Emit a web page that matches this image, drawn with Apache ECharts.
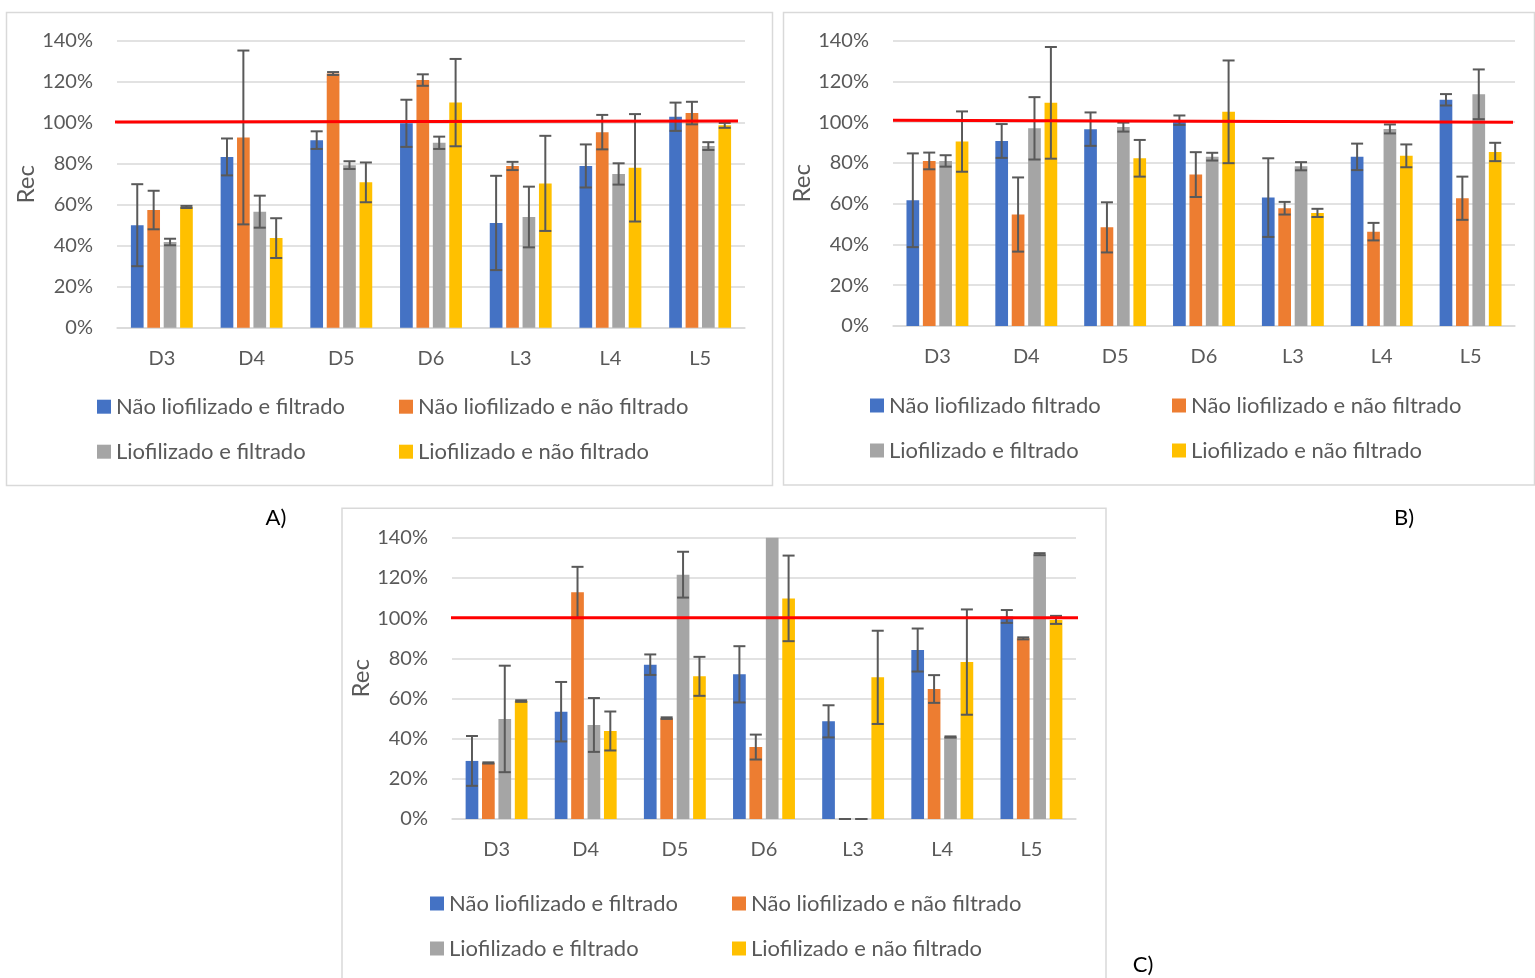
<!DOCTYPE html>
<html>
<head>
<meta charset="utf-8">
<title>Rec</title>
<script src="https://cdn.jsdelivr.net/npm/echarts@6/dist/echarts.min.js"></script>
<style>
  html, body { margin: 0; padding: 0; background: #fff; }
  #chart { width: 1535px; height: 978px; }
</style>
</head>
<body>
<div id="chart"></div>
<script>
// ---- data -------------------------------------------------------------
const categories = ['D3', 'D4', 'D5', 'D6', 'L3', 'L4', 'L5'];
const yTicks = [0, 20, 40, 60, 80, 100, 120, 140];

const namesA = ['Não liofilizado e filtrado', 'Não liofilizado e não filtrado', 'Liofilizado e filtrado', 'Liofilizado e não filtrado'];
const namesB = ['Não liofilizado filtrado', 'Não liofilizado e não filtrado', 'Liofilizado e filtrado', 'Liofilizado e não filtrado'];
const namesC = ['Não liofilizado e filtrado', 'Não liofilizado e não filtrado', 'Liofilizado e filtrado', 'Liofilizado e não filtrado'];

// panel A (values in %)
const aNaoLioFilt      = [50.0, 83.3, 91.5, 99.7, 51.1, 78.9, 102.9];
const aNaoLioFiltErr   = [20.0, 9.0, 4.3, 11.5, 23.0, 10.5, 6.9];
const aNaoLioNaoFilt    = [57.4, 92.8, 124.0, 120.8, 78.9, 95.4, 104.7];
const aNaoLioNaoFiltErr = [9.4, 42.4, 0.7, 2.8, 2.0, 8.4, 5.5];
const aLioFilt         = [41.8, 56.6, 79.3, 90.2, 54.0, 75.0, 88.6];
const aLioFiltErr      = [1.6, 7.8, 1.9, 3.0, 14.8, 5.2, 1.9];
const aLioNaoFilt      = [58.9, 43.7, 70.9, 109.8, 70.4, 78.0, 98.7];
const aLioNaoFiltErr   = [0.5, 9.7, 9.7, 21.3, 23.2, 26.2, 1.2];
const aReference       = [100.3, 100.8];

// panel B
const bNaoLioFilt      = [61.7, 90.8, 96.6, 101.0, 63.0, 83.0, 111.0];
const bNaoLioFiltErr   = [23.0, 8.3, 8.2, 2.3, 19.3, 6.5, 2.8];
const bNaoLioNaoFilt    = [81.0, 54.7, 48.4, 74.3, 57.8, 46.3, 62.7];
const bNaoLioNaoFiltErr = [4.1, 18.2, 12.3, 11.0, 3.1, 4.3, 10.6];
const bLioFilt         = [81.0, 97.0, 97.6, 83.1, 78.4, 96.7, 113.7];
const bLioFiltErr      = [2.8, 15.3, 2.2, 1.9, 2.0, 2.2, 12.2];
const bLioNaoFilt      = [90.5, 109.5, 82.3, 105.1, 55.5, 83.5, 85.4];
const bLioNaoFiltErr   = [14.8, 27.4, 9.0, 25.2, 2.0, 5.6, 4.5];
const bReference       = [101.0, 100.0];

// panel C (D6 "Liofilizado e filtrado" runs past the 140% axis limit)
const cNaoLioFilt      = [28.9, 53.4, 76.8, 72.0, 48.6, 84.1, 100.8];
const cNaoLioFiltErr   = [12.4, 14.8, 5.1, 14.0, 8.0, 10.7, 3.2];
const cNaoLioNaoFilt    = [27.9, 112.8, 50.2, 35.8, 0, 64.7, 89.9];
const cNaoLioNaoFiltErr = [0.3, 12.7, 0.4, 6.2, 0, 6.9, 0.5];
const cLioFilt         = [49.8, 46.8, 121.6, 150.0, 0, 40.8, 131.8];
const cLioFiltErr      = [26.5, 13.4, 11.4, null, 0, 0.3, 0.5];
const cLioNaoFilt      = [58.7, 43.8, 71.0, 109.8, 70.5, 78.1, 99.1];
const cLioNaoFiltErr   = [0.4, 9.7, 9.7, 21.3, 23.2, 26.2, 2.0];
const cReference       = [100.2, 100.2];

// ---- styling ----------------------------------------------------------
const COLORS = ['#4472C4', '#ED7D31', '#A5A5A5', '#FFC000'];
const TEXT = '#595959';
const GRIDLINE = '#D9D9D9';
const FONT = 'Lato, "Liberation Sans", sans-serif';
const FONT_SIZE = 20;
const LEGEND_FONT_SIZE = 22;
const NAME_FONT_SIZE = 24;
const BAR_W = 12.7;
const BAR_SPACE = 3.7;
const CAP = 12;

const panels = [
  {
    label: 'A)', labelPos: [276, 518],
    box: [6.5, 12.5, 766, 473],
    grid: { left: 117, top: 40.7, width: 628, height: 287 },
    legendCols: [97, 399], legendTop: 394.7,
    names: namesA,
    values: [aNaoLioFilt, aNaoLioNaoFilt, aLioFilt, aLioNaoFilt],
    errors: [aNaoLioFiltErr, aNaoLioNaoFiltErr, aLioFiltErr, aLioNaoFiltErr],
    reference: aReference, refShift: [-7, -7]
  },
  {
    label: 'B)', labelPos: [1404, 518],
    box: [783.5, 12.5, 751, 472.5],
    grid: { left: 893, top: 40.7, width: 622, height: 285.3 },
    legendCols: [870, 1172], legendTop: 393.5,
    names: namesB,
    values: [bNaoLioFilt, bNaoLioNaoFilt, bLioFilt, bLioNaoFilt],
    errors: [bNaoLioFiltErr, bNaoLioNaoFiltErr, bLioFiltErr, bLioNaoFiltErr],
    reference: bReference, refShift: [0, -2]
  },
  {
    label: 'C)', labelPos: [1143, 965],
    box: [342, 508.3, 764, 480],
    grid: { left: 452, top: 537.7, width: 624, height: 281.3 },
    legendCols: [430, 732], legendTop: 891.5,
    names: namesC,
    values: [cNaoLioFilt, cNaoLioNaoFilt, cLioFilt, cLioNaoFilt],
    errors: [cNaoLioFiltErr, cNaoLioNaoFiltErr, cLioFiltErr, cLioNaoFiltErr],
    reference: cReference, refShift: [-1, 6]
  }
];

// error bar drawn at the centre of the bar occupying `slot` in its group
function errorBarRenderer(slot) {
  return function (params, api) {
    const idx = api.value(0);
    const lo = api.coord([idx, api.value(1)]);
    const hi = api.coord([idx, api.value(2)]);
    const cx = lo[0] + (slot - 1.5) * (BAR_W + BAR_SPACE);
    const style = { stroke: '#595959', lineWidth: 2 };
    return {
      type: 'group',
      children: [
        { type: 'line', shape: { x1: cx, y1: hi[1], x2: cx, y2: lo[1] }, style },
        { type: 'line', shape: { x1: cx - CAP / 2, y1: hi[1], x2: cx + CAP / 2, y2: hi[1] }, style },
        { type: 'line', shape: { x1: cx - CAP / 2, y1: lo[1], x2: cx + CAP / 2, y2: lo[1] }, style }
      ]
    };
  };
}

const option = {
  animation: false,
  backgroundColor: '#fff',
  textStyle: { fontFamily: FONT },
  grid: [], xAxis: [], yAxis: [], legend: [], series: [], graphic: []
};

panels.forEach((p, pi) => {
  const g = pi;
  option.grid.push(Object.assign({ containLabel: false }, p.grid));

  // category axis
  option.xAxis.push({
    type: 'category', gridIndex: g, data: categories,
    axisLine: { lineStyle: { color: GRIDLINE, width: 1.5 } },
    axisTick: { show: false },
    axisLabel: { color: TEXT, fontSize: FONT_SIZE, fontFamily: FONT, margin: 21 }
  });
  // hidden axis carrying the 100% reference line across the plot
  const W = p.grid.width, a = p.refShift[0], b = p.refShift[1];
  const span = W / (W + b - a);
  const lmin = -a / (W + b - a);
  option.xAxis.push({
    type: 'value', gridIndex: g, show: false, min: lmin, max: lmin + span
  });

  option.yAxis.push({
    type: 'value', gridIndex: g, min: 0, max: 140, interval: 20,
    name: 'Rec', nameLocation: 'middle', nameGap: 78, nameRotate: 90,
    nameTextStyle: { color: TEXT, fontSize: NAME_FONT_SIZE, fontFamily: FONT },
    axisLine: { show: false }, axisTick: { show: false },
    axisLabel: { color: TEXT, fontSize: FONT_SIZE, fontFamily: FONT, margin: 24,
                 formatter: v => yTicks.includes(v) ? v + '%' : '' },
    splitLine: { lineStyle: { color: GRIDLINE, width: 1.5 } }
  });

  const xCat = pi * 2, xRef = pi * 2 + 1;

  p.names.forEach((name, si) => {
    option.series.push({
      type: 'bar', name, xAxisIndex: xCat, yAxisIndex: g,
      data: p.values[si], barWidth: BAR_W, barGap: (BAR_SPACE / BAR_W * 100) + '%',
      itemStyle: { color: COLORS[si] }, clip: true, z: 2
    });
  });
  p.names.forEach((name, si) => {
    const data = [];
    p.values[si].forEach((v, i) => {
      const e = p.errors[si][i];
      if (e !== null) data.push([i, v - e, v + e]);
    });
    option.series.push({
      type: 'custom', name: name + ' (erro)', xAxisIndex: xCat, yAxisIndex: g,
      data, encode: { x: 0, y: [1, 2] }, renderItem: errorBarRenderer(si), z: 3,
      silent: true
    });
  });
  option.series.push({
    type: 'line', name: 'Referência', xAxisIndex: xRef, yAxisIndex: g,
    data: [[0, p.reference[0]], [1, p.reference[1]]],
    symbol: 'none', clip: false, silent: true,
    lineStyle: { color: '#FF0000', width: 3 }, z: 5
  });

  // two legend columns of two rows each
  [[0, 2], [1, 3]].forEach((pair, ci) => {
    option.legend.push({
      orient: 'vertical', left: p.legendCols[ci], top: p.legendTop,
      data: pair.map(k => ({ name: p.names[k], icon: 'rect', itemStyle: { color: COLORS[k] } })),
      itemWidth: 14, itemHeight: 14, itemGap: 21, padding: 0,
      textStyle: { color: TEXT, fontSize: LEGEND_FONT_SIZE, fontFamily: FONT, lineHeight: 24 },
      selectedMode: false
    });
  });

  option.graphic.push({
    type: 'rect', silent: true, z: -10,
    shape: { x: p.box[0], y: p.box[1], width: p.box[2], height: p.box[3] },
    style: { fill: 'none', stroke: GRIDLINE, lineWidth: 1.5 }
  });
  option.graphic.push({
    type: 'text', silent: true,
    x: p.labelPos[0], y: p.labelPos[1],
    style: { text: p.label, fill: '#000', font: '22px ' + FONT, align: 'center', verticalAlign: 'middle' }
  });
});

const chart = echarts.init(document.getElementById('chart'), null, { renderer: 'canvas' });
chart.setOption(option);
</script>
</body>
</html>
